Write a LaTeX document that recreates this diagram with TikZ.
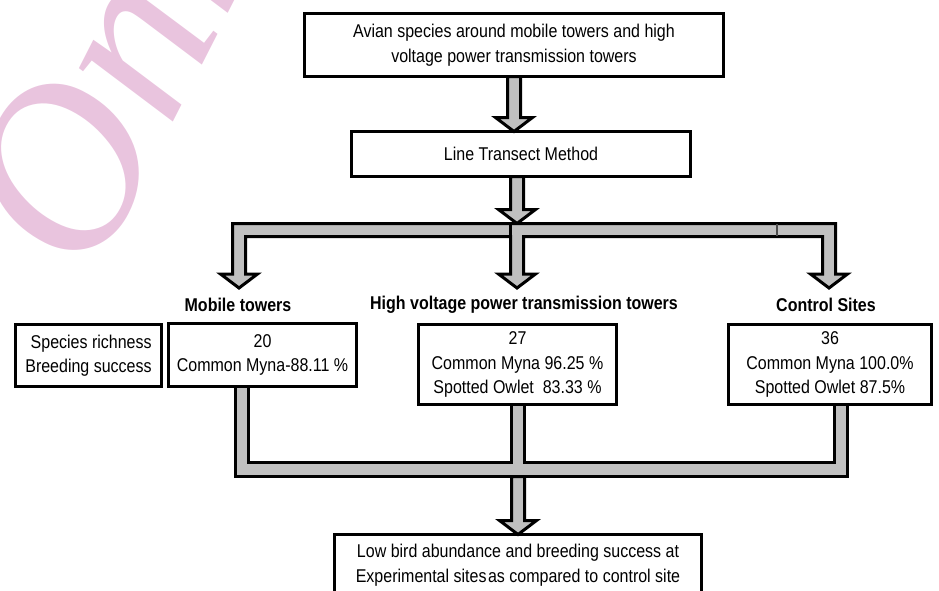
\documentclass[tikz,border=0pt]{standalone}
\usepackage{fontspec}
\setmainfont{Liberation Sans}[FakeStretch=0.865]
\newfontfamily\markFont{Liberation Serif}
\usepackage{tikz}
\usetikzlibrary{calc}

\definecolor{barGray}{RGB}{192,192,192}
\definecolor{markPink}{RGB}{233,196,222}

\tikzset{
  infoBox/.style={draw, line width=3pt, fill=white, align=center, inner sep=0pt, outer sep=0pt,
    font=\fontsize{18.5}{24.5}\selectfont},
  siteLabel/.style={inner sep=0pt, font=\bfseries\fontsize{18.5}{20}\selectfont},
  blockArrow/.style={draw=black, fill=barGray, line width=3pt, line join=miter}
}

% block arrow going down from #1 to the tip #2
\newcommand{\downBlock}[2]{%
  \filldraw[blockArrow] let \p1=(#1), \p2=(#2) in
    (\x2-6.5pt,\y1) -- (\x2-6.5pt,\y2+14pt) -- (\x2-18.5pt,\y2+14pt) -- (\x2,\y2)
    -- (\x2+18.5pt,\y2+14pt) -- (\x2+6.5pt,\y2+14pt) -- (\x2+6.5pt,\y1) -- cycle;}

\begin{document}
\begin{tikzpicture}[x=1pt, y=-1pt]
  \useasboundingbox (0,0) rectangle (939,590);

  % watermark
  \node[text=markPink, rotate=63, anchor=base west, inner sep=0pt,
    font=\markFont\itshape\fontsize{235}{235}\selectfont] (markText) at (92,281) {Online};

  \node[infoBox, minimum width=419pt, minimum height=63pt] (avian) at (514,45)
    {Avian species around mobile towers and high\\voltage power transmission towers};
  \node[infoBox, minimum width=339pt, minimum height=45pt] (transect) at (521,154) {Line Transect Method};

  \node[siteLabel] (mobileLbl) at (238,305) {Mobile towers};
  \node[siteLabel] (hvLbl) at (524,305) {High voltage power transmission towers};
  \node[siteLabel] (controlLbl) at (826,305) {Control Sites};

  \node[infoBox, align=right, minimum width=146pt, minimum height=62pt] (params) at (88.5,355.5)
    {Species richness\\Breeding success};
  \node[infoBox, minimum width=188pt, minimum height=63pt] (mobile) at (262.5,355)
    {20\\Common Myna-88.11 \%};
  \node[infoBox, minimum width=198pt, minimum height=80pt] (hv) at (517.5,364.5)
    {27\\Common Myna 96.25 \%\\Spotted Owlet\ \ 83.33 \%};
  \node[infoBox, minimum width=203pt, minimum height=80pt] (control) at (830,364.5)
    {36\\Common Myna 100.0\%\\Spotted Owlet 87.5\%};

  \node[infoBox, minimum width=367pt, minimum height=61pt] (result) at (518,565)
    {Low bird abundance and breeding success at\\Experimental sites\hspace{1.5pt}as compared to control site};

  % split bar
  \coordinate (split) at (517,230);
  \coordinate (splitL) at (239,230);
  \coordinate (tipL) at (239,288);
  \coordinate (tipM) at (517,288);
  \coordinate (tipR) at (829,288);

  % join bar
  \coordinate (joinL) at (242,469.5);
  \coordinate (joinM) at (518,469.5);
  \coordinate (joinR) at (840.5,469.5);

  \downBlock{avian.south}{$(transect.north)+(-7,0)$}
  \downBlock{transect.south}{$(split)+(0,-6.5)$}

  \filldraw[blockArrow] ($(splitL)+(-6.5,-6.5)$) -| ($(tipR)+(6.5,-14)$) -- ++(12,0) -- (tipR)
    -- ++(-18.5,-14) -- ++(12,0) |- ($(split)+(6.5,6.5)$) -- ($(tipM)+(6.5,-14)$) -- ++(12,0) -- (tipM)
    -- ++(-18.5,-14) -- ++(12,0) |- ($(splitL)+(6.5,6.5)$) -- ($(tipL)+(6.5,-14)$) -- ++(12,0) -- (tipL)
    -- ++(-18.5,-14) -- ++(12,0) -- cycle;
  \draw[line width=2.5pt] ($(split)+(-6.5,-6.5)$) -- ++(0,13);
  \draw[line width=1.5pt, black!70] (777,224) -- (777,236);

  \filldraw[blockArrow] ($(mobile.south -| joinL)+(-6.5,0)$) -- ++(13,0) |- ($(joinM)+(-6.5,-7)$)
    -- ($(hv.south -| joinM)+(-6.5,0)$) -- ++(13,0) |- ($(joinR)+(-6.5,-7)$)
    -- ($(control.south -| joinR)+(-6.5,0)$) -- ++(13,0) |- ($(joinL)+(-6.5,7)$) -- cycle;

  \downBlock{$(joinM)+(0,7)$}{result.north}
\end{tikzpicture}
\end{document}
